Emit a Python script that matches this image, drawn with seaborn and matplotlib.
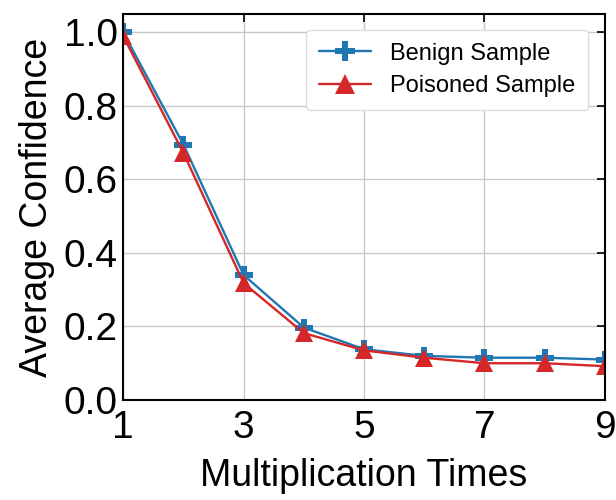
import matplotlib
matplotlib.use("Agg")
import matplotlib.pyplot as plt
import seaborn as sns
import pandas as pd

# data
times = [1, 2, 3, 4, 5, 6, 7, 8, 9]
benign = [1.00, 0.695, 0.34, 0.197, 0.138, 0.12, 0.115, 0.115, 0.11]
poisoned = [0.99, 0.672, 0.318, 0.182, 0.135, 0.115, 0.10, 0.10, 0.092]
series_names = ["Benign Sample", "Poisoned Sample"]

df = pd.DataFrame({
    "times": times * 2,
    "conf": benign + poisoned,
    "series": [series_names[0]] * len(times) + [series_names[1]] * len(times),
})

sns.set_style("white")
plt.rcParams['font.family'] = ['Liberation Sans', 'DejaVu Sans']
plt.rcParams['text.color'] = 'black'
plt.rcParams['axes.labelcolor'] = 'black'
plt.rcParams['xtick.color'] = 'black'
plt.rcParams['ytick.color'] = 'black'

fig, ax = plt.subplots(figsize=(6.16, 5.0), dpi=100)
fig.subplots_adjust(left=0.2, right=0.982, top=0.972, bottom=0.2)

sns.lineplot(data=df, x="times", y="conf", hue="series", style="series",
             palette=["#1f77b4", "#d62728"], markers=["P", "^"], dashes=False,
             markersize=13, linewidth=1.7, markeredgewidth=0, ax=ax)

ax.set_xlim(1, 9)
ax.set_ylim(0, 1.05)
ax.set_xticks([1, 3, 5, 7, 9])
ax.set_yticks([0.0, 0.2, 0.4, 0.6, 0.8, 1.0])
ax.grid(True, color="#c8c8c8", linewidth=1)
ax.tick_params(direction="in", top=True, right=True, length=6, width=1.2,
               labelsize=28)
ax.tick_params(axis="x", pad=7)
ax.tick_params(axis="y", pad=4)
for s in ax.spines.values():
    s.set_color("black")
    s.set_linewidth(1.5)

ax.set_xlabel("Multiplication Times", fontsize=27, labelpad=9)
ax.set_ylabel("Average Confidence", fontsize=27, labelpad=6)

ax.legend(loc="upper right", fontsize=17, frameon=True, handlelength=2.2,
          borderpad=0.55, labelspacing=0.45, framealpha=1, edgecolor="#dddddd",
          markerscale=1.1, bbox_to_anchor=(0.99, 0.99))

fig.savefig("out.png", dpi=100)
